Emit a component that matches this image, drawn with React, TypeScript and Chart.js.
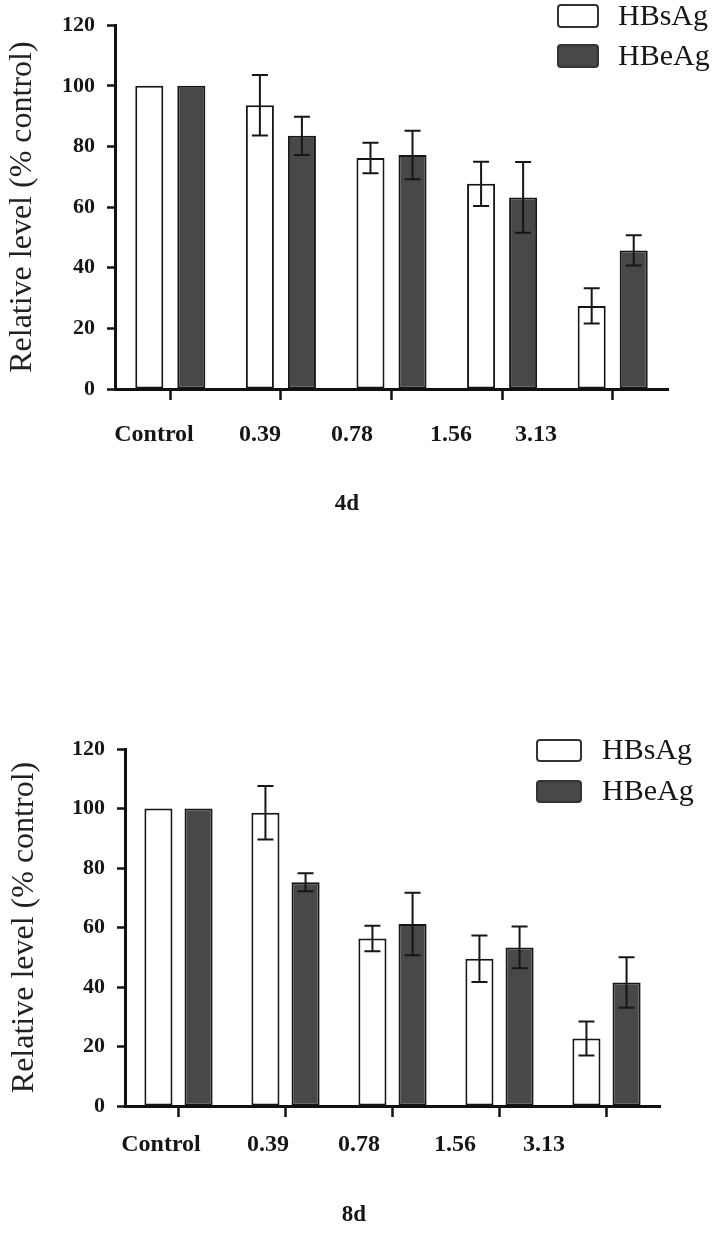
import React, { useEffect, useRef } from 'react';
import { Chart, registerables } from 'chart.js';

Chart.register(...registerables);

// ---------- data ----------
const categories = ['Control', '0.39', '0.78', '1.56', '3.13'];
const seriesNames = ['HBsAg', 'HBeAg'];
const yTicks = [0, 20, 40, 60, 80, 100, 120];
const yTitle = 'Relative level (% control)';

const hbsAg4d = [100, 93.6, 76.2, 67.7, 27.4];
const hbsAg4dErr = [0, 10, 5, 7.3, 5.8];
const hbeAg4d = [100, 83.5, 77.2, 63.2, 45.7];
const hbeAg4dErr = [0, 6.3, 8, 11.7, 5];

const hbsAg8d = [100, 98.6, 56.3, 49.5, 22.7];
const hbsAg8dErr = [0, 9, 4.3, 7.8, 5.7];
const hbeAg8d = [100, 75.2, 61.2, 53.3, 41.5];
const hbeAg8dErr = [0, 3, 10.5, 7, 8.5];

// ---------- styles ----------
const SERIF = '"Liberation Serif", "Times New Roman", Times, serif';
const INK = '#161616';
const fills = ['#ffffff', '#484848'];

type Layout = {
  top: number; height: number; yAxisWidth: number;
  padTop: number; padRight: number; padBottom: number;
  catPct: number; barPct: number; titlePad: number;
  labelX: number[]; labelDy: number; panelLabelX: number; panelLabelDy: number;
  legendX: number; legendY: number; legendBoxW: number; legendBoxH: number;
  legendStep: number; legendTextGap: number;
};

const panels: { name: string; values: number[][]; errors: number[][]; layout: Layout }[] = [
  {
    name: '4d',
    values: [hbsAg4d, hbeAg4d],
    errors: [hbsAg4dErr, hbeAg4dErr],
    layout: {
      top: 0, height: 540, yAxisWidth: 115,
      padTop: 24, padRight: 49, padBottom: 139,
      catPct: 0.76, barPct: 0.667, titlePad: 3,
      labelX: [154, 260, 352, 451, 536], labelDy: 46,
      panelLabelX: 347, panelLabelDy: 115,
      legendX: 558, legendY: 5, legendBoxW: 40, legendBoxH: 22, legendStep: 40, legendTextGap: 20,
    },
  },
  {
    name: '8d',
    values: [hbsAg8d, hbeAg8d],
    errors: [hbsAg8dErr, hbeAg8dErr],
    layout: {
      top: 700, height: 535, yAxisWidth: 125,
      padTop: 49, padRight: 57, padBottom: 117,
      catPct: 0.75, barPct: 0.7, titlePad: 5,
      labelX: [161, 268, 359, 455, 544], labelDy: 39,
      panelLabelX: 354, panelLabelDy: 109,
      legendX: 537, legendY: 40, legendBoxW: 44, legendBoxH: 21, legendStep: 41, legendTextGap: 21,
    },
  },
];

function roundRect(ctx: CanvasRenderingContext2D, x: number, y: number, w: number, h: number, r: number) {
  ctx.beginPath();
  ctx.moveTo(x + r, y);
  ctx.lineTo(x + w - r, y);
  ctx.quadraticCurveTo(x + w, y, x + w, y + r);
  ctx.lineTo(x + w, y + h - r);
  ctx.quadraticCurveTo(x + w, y + h, x + w - r, y + h);
  ctx.lineTo(x + r, y + h);
  ctx.quadraticCurveTo(x, y + h, x, y + h - r);
  ctx.lineTo(x, y + r);
  ctx.quadraticCurveTo(x, y, x + r, y);
  ctx.closePath();
}

function Panel({ panel }: { panel: typeof panels[number] }) {
  const ref = useRef<HTMLCanvasElement>(null);
  const L = panel.layout;

  useEffect(() => {
    const canvas = ref.current;
    if (!canvas) return;

    const errorBars = {
      id: 'errorBars',
      afterDatasetsDraw(chart: any) {
        const ctx = chart.ctx;
        const yScale = chart.scales.y;
        ctx.save();
        ctx.strokeStyle = INK;
        ctx.lineWidth = 2;
        chart.data.datasets.forEach((ds: any, di: number) => {
          const meta = chart.getDatasetMeta(di);
          const errs = panel.errors[di];
          meta.data.forEach((el: any, j: number) => {
            const e = errs[j];
            if (!e) return;
            const v = ds.data[j];
            const yT = yScale.getPixelForValue(v + e);
            const yB = yScale.getPixelForValue(v - e);
            const x = el.x;
            const cap = 8;
            ctx.beginPath();
            ctx.moveTo(x, yT); ctx.lineTo(x, yB);
            ctx.moveTo(x - cap, yT); ctx.lineTo(x + cap, yT);
            ctx.moveTo(x - cap, yB); ctx.lineTo(x + cap, yB);
            ctx.stroke();
          });
        });
        ctx.restore();
      },
    };

    const textPlugin = {
      id: 'texts',
      afterDraw(chart: any) {
        const ctx = chart.ctx;
        const area = chart.chartArea;
        ctx.save();
        ctx.fillStyle = INK;
        ctx.textAlign = 'center';
        ctx.textBaseline = 'middle';
        ctx.font = `bold 24px ${SERIF}`;
        (chart.data.labels as string[]).forEach((lab, i) => {
          ctx.fillText(lab, L.labelX[i], area.bottom + L.labelDy);
        });
        ctx.font = `bold 23px ${SERIF}`;
        ctx.fillText(panel.name, L.panelLabelX, area.bottom + L.panelLabelDy);

        // legend
        ctx.textAlign = 'left';
        ctx.font = `30px ${SERIF}`;
        chart.data.datasets.forEach((ds: any, i: number) => {
          const y = L.legendY + i * L.legendStep;
          roundRect(ctx, L.legendX, y, L.legendBoxW, L.legendBoxH, 3);
          ctx.fillStyle = ds.backgroundColor;
          ctx.fill();
          ctx.lineWidth = 2;
          ctx.strokeStyle = '#333';
          ctx.stroke();
          ctx.fillStyle = INK;
          ctx.fillText(ds.label, L.legendX + L.legendBoxW + L.legendTextGap, y + L.legendBoxH / 2 + 1);
        });
        ctx.restore();
      },
    };

    const chart = new Chart(canvas, {
      type: 'bar',
      data: {
        labels: categories,
        datasets: seriesNames.map((name, i) => ({
          label: name,
          data: panel.values[i],
          backgroundColor: fills[i],
          borderColor: '#161616',
          borderWidth: 2,
          borderSkipped: false,
          categoryPercentage: L.catPct,
          barPercentage: L.barPct,
        })),
      },
      options: {
        responsive: false,
        maintainAspectRatio: false,
        animation: false,
        layout: { padding: { top: L.padTop, right: L.padRight, bottom: L.padBottom, left: 0 } },
        plugins: {
          legend: { display: false },
          tooltip: { enabled: false },
          title: { display: false },
        },
        scales: {
          x: {
            type: 'category',
            offset: true,
            grid: {
              display: true,
              drawOnChartArea: false,
              drawTicks: true,
              tickLength: 11,
              tickWidth: 2.5,
              tickColor: '#111',
              offset: false,
            },
            border: { display: true, color: '#111', width: 3 },
            ticks: { display: false },
            afterFit: (s: any) => { s.height = 12; },
          },
          y: {
            min: 0,
            max: 120,
            afterBuildTicks: (s: any) => { s.ticks = yTicks.map((v) => ({ value: v })); },
            ticks: {
              padding: 12,
              color: INK,
              font: { family: SERIF, size: 22, weight: 'bold' },
            },
            grid: {
              display: true,
              drawOnChartArea: false,
              drawTicks: true,
              tickLength: 8,
              tickWidth: 2.5,
              tickColor: '#111',
            },
            border: { display: true, color: '#111', width: 3 },
            title: {
              display: true,
              text: yTitle,
              color: '#222',
              font: { family: SERIF, size: 32, weight: 'normal', lineHeight: 1.2 },
              padding: { top: L.titlePad, bottom: 0 },
            },
            afterFit: (s: any) => { s.width = L.yAxisWidth; },
          },
        },
      } as any,
      plugins: [errorBars, textPlugin],
    });
    return () => chart.destroy();
  }, []);

  return (
    <canvas
      ref={ref}
      width={717}
      height={L.height}
      style={{ position: 'absolute', left: 0, top: L.top, width: 717, height: L.height, display: 'block' }}
    />
  );
}

export default function App() {
  return (
    <div style={{ position: 'absolute', left: 0, top: 0, width: 717, height: 1235, background: '#fff', overflow: 'hidden' }}>
      {panels.map((p) => (
        <Panel key={p.name} panel={p} />
      ))}
    </div>
  );
}
